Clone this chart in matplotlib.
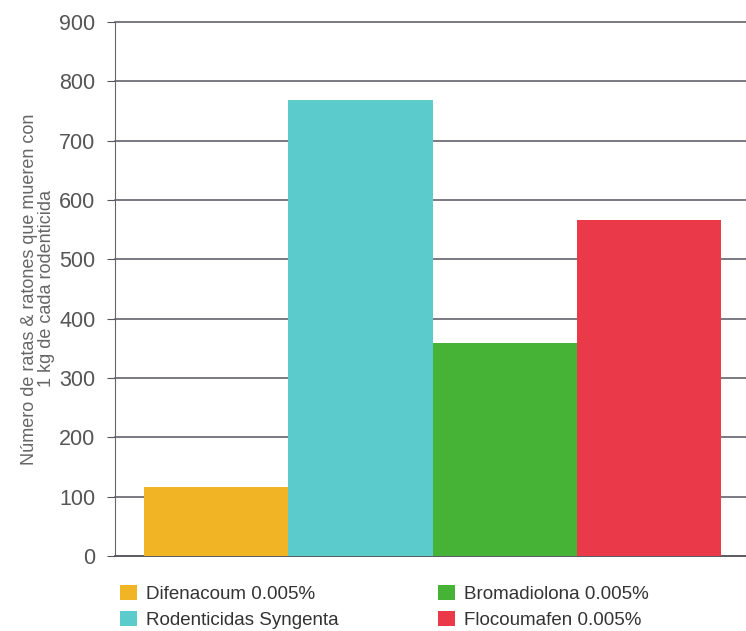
import matplotlib.pyplot as plt
from matplotlib.patches import Patch

plt.rcParams["font.family"] = ["Liberation Sans", "DejaVu Sans"]

# Data
labels = ["Difenacoum 0.005%", "Rodenticidas Syngenta", "Bromadiolona 0.005%", "Flocoumafen 0.005%"]
values = [116, 769, 359, 567]
colors = ["#f0b424", "#5ccbcc", "#46b236", "#ea3a4a"]
yticks = [0, 100, 200, 300, 400, 500, 600, 700, 800, 900]

fig = plt.figure(figsize=(7.46, 6.31), dpi=100)
ax = fig.add_axes([0.154, 0.119, 0.846, 0.846])

x = range(len(values))
ax.bar(x, values, width=1.0, color=colors, zorder=3)

ax.set_ylim(0, 900)
ax.set_xlim(-0.7, 3.67)
ax.set_yticks(yticks)
ax.set_xticks([])
ax.yaxis.grid(True, color="#55555f", linewidth=1.1, zorder=1)
for gl in ax.get_ygridlines():
    gl.set_clip_on(False)
ax.tick_params(axis="y", length=6, color="#55555f", labelsize=15.5, labelcolor="#555555", pad=8)

for side in ["top", "right"]:
    ax.spines[side].set_visible(False)
ax.spines["left"].set_color("#666666")
ax.spines["bottom"].set_color("#55555f")
ax.spines["bottom"].set_linewidth(1.1)

ax.set_ylabel("Número de ratas & ratones que mueren con\n1 kg de cada rodenticida",
              fontsize=13, color="#666666", labelpad=3, linespacing=1.0)

handles = [Patch(facecolor=c) for c in colors]
fig.legend(handles, labels, ncol=2, loc="upper left", bbox_to_anchor=(0.138, 0.1),
           frameon=False, fontsize=13.5, handlelength=0.9, handleheight=0.9,
           handletextpad=0.5, columnspacing=5.3, labelspacing=0.4, labelcolor="#333333")

fig.savefig("out.png", dpi=100)
